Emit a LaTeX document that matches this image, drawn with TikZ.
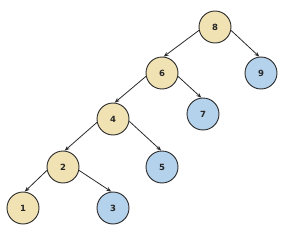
\documentclass[tikz,border=0pt]{standalone}
\usepackage{fontspec}
\setmainfont{DejaVu Sans}
\usetikzlibrary{arrows.meta}
\definecolor{tan}{HTML}{F1E2B4}
\definecolor{sky}{HTML}{B4D2EC}
\definecolor{edge}{HTML}{2A2A2A}
\tikzset{
  nd/.style={circle, draw=edge, line width=0.9pt, minimum size=32pt, inner sep=0pt, font=\bfseries\fontsize{8.5}{10}\selectfont, text=black!85},
  inn/.style={nd, fill=tan},
  lf/.style={nd, fill=sky},
  arr/.style={-{Stealth[length=5pt,width=4pt]}, line width=0.8pt, draw=edge}
}
\begin{document}
\begin{tikzpicture}[x=1pt,y=-1pt]
\useasboundingbox (0,0) rectangle (292,233);
\node[inn] (n8) at (215,27) {8};
\node[lf]  (n9) at (261,73) {9};
\node[inn] (n6) at (162,73) {6};
\node[lf]  (n7) at (203,114) {7};
\node[inn] (n4) at (113,119) {4};
\node[lf]  (n5) at (162,167) {5};
\node[inn] (n2) at (63,167) {2};
\node[inn] (n1) at (23,208) {1};
\node[lf]  (n3) at (113,208) {3};
\draw[arr] (n8.192) -- (n6.84);
\draw[arr] (n8.348) -- (n9.96);
\draw[arr] (n6.192) -- (n4.84);
\draw[arr] (n6.348) -- (n7.96);
\draw[arr] (n4.192) -- (n2.84);
\draw[arr] (n4.352) -- (n5.93);
\draw[arr] (n2.192) -- (n1.84);
\draw[arr] (n2.348) -- (n3.96);
\end{tikzpicture}
\end{document}
